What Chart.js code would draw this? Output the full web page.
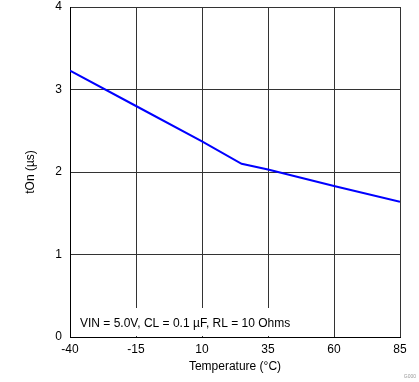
<!DOCTYPE html>
<html>
<head>
<meta charset="utf-8">
<script src="https://cdn.jsdelivr.net/npm/chart.js@4/dist/chart.umd.min.js"></script>
<style>
  html, body { margin: 0; padding: 0; background: #fff; }
  #wrap { width: 419px; height: 382px; position: relative; }
</style>
</head>
<body>
<div id="wrap"><canvas id="chart" width="419" height="382"></canvas></div>
<script>
const temps = [-40, -15, 10, 25, 35, 60, 85];
const tOn = [3.23, 2.80, 2.37, 2.10, 2.03, 1.83, 1.64];
const xTicks = [-40, -15, 10, 35, 60, 85];
const yTicks = [0, 1, 2, 3, 4];
const noteText = "VIN = 5.0V, CL = 0.1 µF, RL = 10 Ohms";

const font = { family: "Arial, 'Liberation Sans', sans-serif", size: 12 };

// note box inside plot, covers the grid below it
const notePlugin = {
  id: "note",
  beforeDatasetsDraw(chart) {
    const { ctx, chartArea } = chart;
    ctx.save();
    ctx.fillStyle = "#fff";
    ctx.fillRect(chartArea.left + 1, chartArea.bottom - 29, 228, 28);
    ctx.fillStyle = "#000";
    ctx.font = "12px " + font.family;
    ctx.textBaseline = "middle";
    ctx.fillText(noteText, chartArea.left + 10, chartArea.bottom - 13);
    ctx.restore();
  },
  afterDraw(chart) {
    const ctx = chart.ctx;
    ctx.save();
    ctx.fillStyle = "#999";
    ctx.font = "5px " + font.family;
    ctx.textAlign = "right";
    ctx.fillText("G000", 416, 378);
    ctx.restore();
  }
};

new Chart(document.getElementById("chart"), {
  type: "line",
  data: {
    datasets: [{
      data: temps.map((t, i) => ({ x: t, y: tOn[i] })),
      borderColor: "#0000ff",
      borderWidth: 2,
      pointRadius: 0,
      tension: 0,
      fill: false
    }]
  },
  options: {
    responsive: false,
    animation: false,
    layout: { padding: { top: 7, right: 19, left: 0, bottom: 0 } },
    plugins: { legend: { display: false }, tooltip: { enabled: false } },
    scales: {
      x: {
        type: "linear",
        min: -40,
        max: 85,
        afterBuildTicks: s => { s.ticks = xTicks.map(v => ({ value: v })); },
        afterFit: s => { s.height = 45; },
        grid: { color: "#333", drawTicks: false },
        border: { color: "#000", width: 1 },
        ticks: { color: "#000", font, padding: 5, maxRotation: 0 },
        title: { display: true, text: "Temperature (°C)", color: "#000", font, padding: { top: 0, bottom: 8 } }
      },
      y: {
        min: 0,
        max: 4,
        afterBuildTicks: s => { s.ticks = yTicks.map(v => ({ value: v })); },
        afterFit: s => { s.width = 70; s.paddingTop = 0; s.paddingBottom = 0; },
        grid: { color: "#333", drawTicks: false },
        border: { color: "#000", width: 1 },
        ticks: { color: "#000", font, padding: 8 },
        title: { display: true, text: "tOn (µs)", color: "#000", font, padding: { top: 23, bottom: 0 } }
      }
    }
  },
  plugins: [notePlugin]
});
</script>
</body>
</html>
